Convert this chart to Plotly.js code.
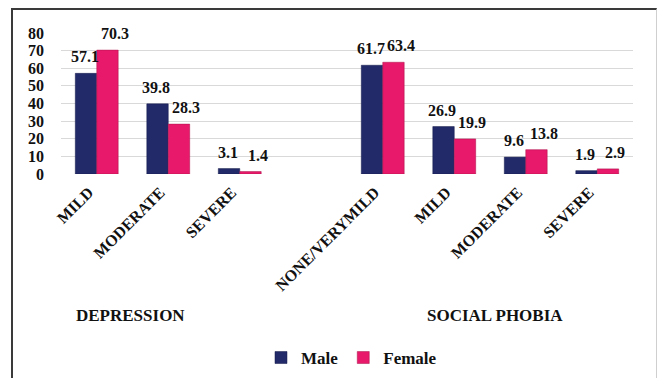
<!DOCTYPE html>
<html>
<head>
<meta charset="utf-8">
<script src="https://cdn.plot.ly/plotly-3.0.1.min.js"></script>
<style>
html,body{margin:0;padding:0;background:#fff;}
#wrap{position:relative;width:657px;height:378px;overflow:hidden;}
#chart{position:absolute;left:0;top:0;width:657px;height:378px;}
#frame{position:absolute;left:11px;top:8px;width:643px;height:380px;border-top:2px solid #3a3a3a;border-left:2px solid #3a3a3a;border-right:1px solid #cfcfcf;pointer-events:none;}
</style>
</head>
<body>
<div id="wrap"><div id="chart"></div><div id="frame"></div></div>
<script>
const groups = ['DEPRESSION','DEPRESSION','DEPRESSION','SOCIAL PHOBIA','SOCIAL PHOBIA','SOCIAL PHOBIA','SOCIAL PHOBIA'];
const categories = ['MILD','MODERATE','SEVERE','NONE/VERYMILD','MILD','MODERATE','SEVERE'];
const male = [57.1, 39.8, 3.1, 61.7, 26.9, 9.6, 1.9];
const female = [70.3, 28.3, 1.4, 63.4, 19.9, 13.8, 2.9];
const yTicks = [0,10,20,30,40,50,60,70,80];

// slot positions: one empty slot between groups
const pos = [];
let p = 0;
for (let i = 0; i < categories.length; i++) {
  if (i > 0 && groups[i] !== groups[i-1]) p += 1;
  pos.push(p);
  p += 1;
}

const serif = 'Liberation Serif';
const navy = '#222a6a';
const pink = '#e8186a';

const traces = [
  {type:'bar', name:'Male', x:pos, y:male, marker:{color:navy, line:{color:'#151a48', width:0.5}}, hoverinfo:'y'},
  {type:'bar', name:'Female', x:pos, y:female, marker:{color:pink, line:{color:'#a8164a', width:0.5}}, hoverinfo:'y'}
];

const lblFont = {family:serif, size:16, color:'#111', weight:700};
const annotations = [];
male.forEach((v,i)=>annotations.push({x:pos[i], y:v, xref:'x', yref:'y', text:String(v), showarrow:false,
  xshift:-12, yshift:6, yanchor:'bottom', font:lblFont}));
female.forEach((v,i)=>annotations.push({x:pos[i], y:v, xref:'x', yref:'y', text:String(v), showarrow:false,
  xshift:18, yshift:6, yanchor:'bottom', font:lblFont}));
annotations.push({x:0.47, y:-1.007, xref:'x', yref:'paper', text:'DEPRESSION', showarrow:false, yanchor:'middle',
  font:{family:serif, size:17, color:'#111', weight:700}});
annotations.push({x:5.57, y:-1.007, xref:'x', yref:'paper', text:'SOCIAL PHOBIA', showarrow:false, yanchor:'middle',
  font:{family:serif, size:17, color:'#111', weight:700}});

const layout = {
  width:657, height:378,
  margin:{l:61, r:24, t:33, b:204},
  paper_bgcolor:'#fff', plot_bgcolor:'#fff',
  barmode:'group', bargap:0.4, bargroupgap:0,
  showlegend:true,
  legend:{orientation:'h', xref:'container', yref:'container', x:0.535, y:0.053, xanchor:'center', yanchor:'middle',
    font:{family:serif, size:17, color:'#111', weight:700}, itemwidth:30, traceorder:'normal'},
  xaxis:{range:[-0.5, 7.5], tickvals:pos, ticktext:categories, tickangle:-45, showgrid:false, zeroline:false,
    showline:false, ticks:'', tickfont:{family:serif, size:16, color:'#111', weight:700}, ticklabelshift:-8,
    ticklabelstandoff:5, fixedrange:true},
  yaxis:{range:[0,80], tickvals:yTicks, showgrid:true, gridcolor:'#d9d9d9', gridwidth:1, zeroline:false, showline:false,
    ticks:'', ticklabelstandoff:16, tickfont:{family:serif, size:16, color:'#111', weight:700}, fixedrange:true},
  annotations:annotations
};

Plotly.newPlot('chart', traces, layout, {displayModeBar:false, staticPlot:true});
</script>
</body>
</html>
